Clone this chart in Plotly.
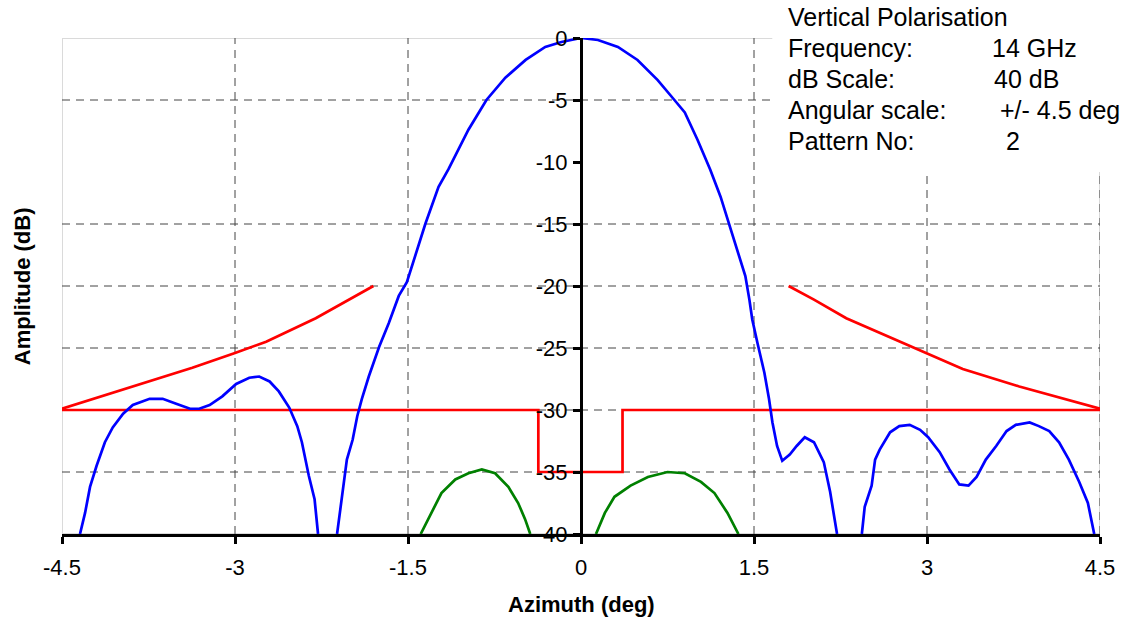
import plotly.graph_objects as go

# ---------------- data ----------------
# Co-polar pattern (blue); None separates segments that dip below -40 dB
blue_az = [-4.344, -4.30, -4.257, -4.20, -4.128, -4.06, -3.97, -3.886, -3.74, -3.627, -3.51, -3.39,
           -3.31, -3.22, -3.11, -2.99, -2.876, -2.79, -2.70, -2.62, -2.53, -2.46, -2.42, -2.36,
           -2.31, -2.28, None,
           -2.115, -2.07, -2.03, -1.98, -1.94, -1.90, -1.84, -1.75, -1.667, -1.58, -1.51, -1.35,
           -1.235, -1.15, -1.06, -0.976, -0.82, -0.656, -0.48, -0.31, -0.17, 0.0, 0.147, 0.32,
           0.49, 0.665, 0.81, 0.90, 1.01, 1.12, 1.21, 1.285, 1.356, 1.425, 1.46, 1.485, 1.53,
           1.59, 1.63, 1.66, 1.70, 1.745, 1.81, 1.87, 1.94, 2.02, 2.105, 2.16, 2.19, 2.22, None,
           2.435, 2.46, 2.52, 2.55, 2.59, 2.68, 2.76, 2.85, 2.94, 3.01, 3.11, 3.195, 3.28, 3.36,
           3.43, 3.51, 3.60, 3.69, 3.77, 3.89, 3.97, 4.06, 4.145, 4.23, 4.32, 4.395, 4.45]
blue_db = [-40.0, -38.3, -36.2, -34.5, -32.6, -31.4, -30.3, -29.6, -29.1, -29.1, -29.5, -29.9,
           -29.9, -29.6, -28.9, -27.9, -27.4, -27.3, -27.7, -28.5, -29.8, -31.3, -32.6, -35.3,
           -37.2, -40.0, None,
           -40.0, -37.0, -34.0, -32.4, -30.5, -29.1, -27.3, -24.9, -23.0, -20.8, -19.7, -15.0,
           -12.0, -10.6, -9.0, -7.4, -5.0, -3.2, -1.77, -0.72, -0.32, 0.0, -0.16, -0.72,
           -1.77, -3.4, -5.0, -6.0, -8.2, -10.6, -12.8, -15.0, -17.1, -19.2, -21.1, -22.7, -24.6,
           -27.0, -29.1, -31.0, -32.9, -34.1, -33.6, -32.9, -32.2, -32.6, -34.2, -36.6, -38.3, -40.0, None,
           -40.0, -37.8, -36.1, -34.0, -33.2, -31.8, -31.3, -31.2, -31.6, -32.2, -33.4, -34.8, -36.0, -36.1,
           -35.4, -34.0, -32.9, -31.7, -31.2, -31.0, -31.3, -31.7, -32.6, -34.0, -35.8, -37.5, -40.0]

# Cross-polar pattern (green)
green_az = [-1.39, -1.295, -1.21, -1.09, -0.976, -0.86, -0.745, -0.63, -0.545, -0.485, -0.44, None,
            0.13, 0.207, 0.29, 0.43, 0.58, 0.75, 0.90, 1.04, 1.157, 1.27, 1.365]
green_db = [-40.0, -38.3, -36.7, -35.6, -35.1, -34.8, -35.1, -36.2, -37.5, -38.8, -40.0, None,
            -40.0, -38.3, -37.0, -36.1, -35.4, -35.0, -35.1, -35.8, -36.7, -38.3, -40.0]

# Sidelobe envelope masks (red)
env_left_az = [-4.5, -3.886, -3.37, -3.0, -2.73, -2.30, -2.01, -1.8]
env_left_db = [-29.9, -28.1, -26.6, -25.4, -24.5, -22.6, -21.1, -20.0]
env_right_az = [1.8, 2.02, 2.30, 2.82, 3.0, 3.31, 3.80, 4.5]
env_right_db = [-20.0, -21.1, -22.6, -24.7, -25.4, -26.7, -28.1, -29.9]

# Cross-polar mask (red step line)
xmask_az = [-4.5, -0.37, -0.37, 0.36, 0.36, 4.5]
xmask_db = [-30, -30, -35, -35, -30, -30]

x_ticks = [-4.5, -3, -1.5, 0, 1.5, 3, 4.5]
x_ticktext = ["-4.5", "-3", "-1.5", "0", "1.5", "3", "4.5"]
y_ticks = [0, -5, -10, -15, -20, -25, -30, -35, -40]
y_ticktext = ["0", "-5", "-10", "-15", "-20", "-25", "-30", "-35", "-40"]
grid_x = [-3, -1.5, 1.5, 3, 4.5]
grid_y = [-5, -15, -20, -25, -30, -35]

info_labels = ["Frequency:", "dB Scale:", "Angular scale:", "Pattern No:"]
info_values = ["14 GHz", "40 dB", "+/- 4.5 deg", "2"]
info_title = "Vertical Polarisation"

# ---------------- figure ----------------
FONT = "Liberation Sans, Arial, sans-serif"
W, H = 1127, 617
ML, MR, MT, MB = 62, 23, 38, 83
PW, PH = W - ML - MR, H - MT - MB

fig = go.Figure()
line_w = 2.7
fig.add_trace(go.Scatter(x=xmask_az, y=xmask_db, mode="lines",
                         line=dict(color="#FF0000", width=line_w), hoverinfo="skip"))
fig.add_trace(go.Scatter(x=env_left_az, y=env_left_db, mode="lines",
                         line=dict(color="#FF0000", width=line_w), hoverinfo="skip"))
fig.add_trace(go.Scatter(x=env_right_az, y=env_right_db, mode="lines",
                         line=dict(color="#FF0000", width=line_w), hoverinfo="skip"))
fig.add_trace(go.Scatter(x=green_az, y=green_db, mode="lines",
                         line=dict(color="#008000", width=line_w), hoverinfo="skip"))
fig.add_trace(go.Scatter(x=blue_az, y=blue_db, mode="lines",
                         line=dict(color="#0000FF", width=line_w), hoverinfo="skip"))

shapes = []
# plot border (light grey)
shapes.append(dict(type="rect", xref="x", yref="y", x0=-4.5, x1=4.5, y0=-40, y1=0,
                   line=dict(color="#DADADA", width=2), layer="below"))
for gx in grid_x:
    shapes.append(dict(type="line", xref="x", yref="y", x0=gx, x1=gx, y0=-40, y1=0,
                       line=dict(color="#444444", width=1, dash="8px,6px"), layer="below"))
for gy in grid_y:
    shapes.append(dict(type="line", xref="x", yref="y", x0=-4.5, x1=4.5, y0=gy, y1=gy,
                       line=dict(color="#444444", width=1, dash="8px,6px"), layer="below"))
# white box behind the info text
shapes.append(dict(type="rect", xref="paper", yref="paper",
                   x0=(775 - ML) / PW, x1=(W - ML + 5) / PW,
                   y0=(H - MB - 172) / PH, y1=(H - MB + 5) / PH,
                   fillcolor="white", line=dict(width=0), layer="above"))

annotations = []
def py(pix):
    return (H - MB - pix) / PH
def px(pix):
    return (pix - ML) / PW

row_y = [17, 48, 79, 110, 141]
val_x = [994, 996, 1002, 1008]
tsize = 25
annotations.append(dict(text=info_title, xref="paper", yref="paper", x=px(789), y=py(row_y[0]),
                        xanchor="left", yanchor="middle", showarrow=False,
                        font=dict(family=FONT, size=tsize, color="black")))
for i, (lab, val) in enumerate(zip(info_labels, info_values)):
    annotations.append(dict(text=lab, xref="paper", yref="paper", x=px(789), y=py(row_y[i + 1]),
                            xanchor="left", yanchor="middle", showarrow=False,
                            font=dict(family=FONT, size=tsize, color="black")))
    annotations.append(dict(text=val, xref="paper", yref="paper", x=px(val_x[i]), y=py(row_y[i + 1]),
                            xanchor="left", yanchor="middle", showarrow=False,
                            font=dict(family=FONT, size=tsize, color="black")))
# axis titles
annotations.append(dict(text="<b>Azimuth (deg)</b>", xref="paper", yref="paper", x=0.5, y=py(604),
                        xanchor="center", yanchor="middle", showarrow=False,
                        font=dict(family=FONT, size=22, color="black")))
annotations.append(dict(text="<b>Amplitude (dB)</b>", xref="paper", yref="paper", x=px(22), y=py(286),
                        xanchor="center", yanchor="middle", showarrow=False, textangle=-90,
                        font=dict(family=FONT, size=22, color="black")))

fig.update_layout(
    width=W, height=H,
    margin=dict(l=ML, r=MR, t=MT, b=MB, pad=0),
    paper_bgcolor="white", plot_bgcolor="white",
    showlegend=False,
    shapes=shapes, annotations=annotations,
    xaxis=dict(range=[-4.5, 4.5], tickvals=x_ticks, ticktext=x_ticktext,
               showgrid=False, zeroline=False, showline=True, linecolor="black", linewidth=3,
               ticks="outside", ticklen=7, tickwidth=2.5, tickcolor="black", ticklabelstandoff=5,
               tickfont=dict(family=FONT, size=22, color="black"), fixedrange=True),
    yaxis=dict(range=[-40, 0], tickvals=y_ticks, ticktext=y_ticktext,
               anchor="free", position=0.5,
               showgrid=False, zeroline=False, showline=True, linecolor="black", linewidth=3,
               ticks="outside", ticklen=7, tickwidth=2.5, tickcolor="black", ticklabelstandoff=1,
               tickfont=dict(family=FONT, size=22, color="black"), fixedrange=True),
    font=dict(family=FONT, color="black"),
)

fig.write_html("out.html", config={"displayModeBar": False},
               post_script="document.body.style.margin='0';document.body.style.padding='0';"
                           "document.body.style.overflow='hidden';")
